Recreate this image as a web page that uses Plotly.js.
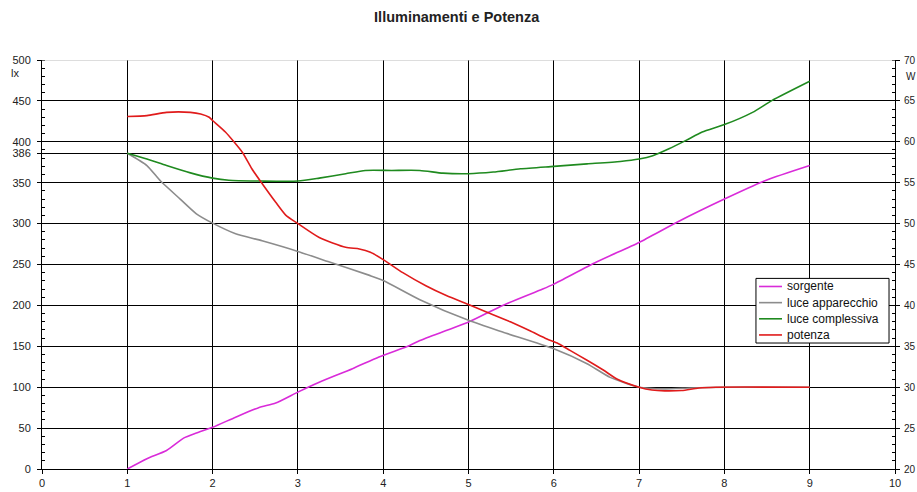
<!DOCTYPE html>
<html>
<head>
<meta charset="utf-8">
<script src="https://cdn.plot.ly/plotly-3.0.1.min.js"></script>
<style>html,body{margin:0;padding:0;background:#fff;}#chart{width:917px;height:492px;}</style>
</head>
<body>
<div id="chart"></div>
<script>
// ---- data ----
const chartTitle = "Illuminamenti e Potenza";
const seriesNames = ["sorgente", "luce apparecchio", "luce complessiva", "potenza"];
const seriesColors = ["#d92bd9", "#8c8c8c", "#1f8a1f", "#e01b1b"];

const xSorgente = [1, 1.23, 1.46, 1.66, 1.81, 2, 2.27, 2.54, 2.74, 3, 3.25, 3.64, 3.95, 4.31, 4.43, 5, 5.4, 5.87, 6, 6.5, 7, 7.45, 8, 8.49, 9];
const ySorgente = [0, 12.6, 22.7, 37.8, 44, 51, 63.4, 75, 80.6, 94, 106, 122.6, 137, 151, 157, 179.6, 200, 220, 226, 253, 277, 302, 330, 353, 371];

const xApparecchio = [1, 1.23, 1.39, 1.62, 1.81, 2, 2.27, 2.58, 3, 3.37, 3.84, 4, 4.43, 5, 5.4, 6, 6.39, 6.66, 7, 7.3, 7.6, 8, 9];
const yApparecchio = [386, 371, 352, 330, 312, 300.6, 287.6, 279, 266, 253, 236.7, 230.5, 207, 181.7, 167.4, 147, 128.7, 112, 100, 98, 99, 100, 100];

const xComplessiva = [1, 1.23, 1.46, 1.74, 2, 2.19, 2.58, 3, 3.25, 3.56, 3.79, 4.1, 4.43, 4.7, 5, 5.29, 5.61, 6, 6.39, 6.78, 7, 7.16, 7.35, 7.55, 7.74, 8, 8.33, 8.56, 9];
const yComplessiva = [386, 379, 371, 362, 355.6, 353, 352, 352, 355.6, 361, 365, 365, 365, 361.7, 361, 363, 367, 370, 373, 376, 379, 383, 391.5, 401.7, 412, 421, 436, 450.6, 474];

const xPotenza = [1, 1.23, 1.46, 1.74, 1.86, 1.96, 2, 2.15, 2.35, 2.46, 2.58, 2.74, 2.86, 3, 3.25, 3.56, 3.72, 3.85, 4, 4.23, 4.5, 4.74, 5, 5.21, 5.49, 5.72, 5.92, 6.04, 6.19, 6.39, 6.58, 6.74, 7, 7.15, 7.3, 7.5, 7.7, 7.9, 9];
const yPotenzaW = [63.1, 63.2, 63.6, 63.6, 63.4, 63.0, 62.6, 61.2, 58.7, 56.7, 54.9, 52.6, 51.0, 50.0, 48.3, 47.1, 46.9, 46.5, 45.6, 44.0, 42.4, 41.2, 40.1, 39.2, 38.0, 36.9, 35.9, 35.4, 34.5, 33.3, 32.1, 31.0, 30.0, 29.65, 29.55, 29.6, 29.9, 30.0, 30.0];

const xTicks = [0, 1, 2, 3, 4, 5, 6, 7, 8, 9, 10];
const yLeftTicks = [0, 50, 100, 150, 200, 250, 300, 350, 386, 400, 450, 500];
const yRightTicks = [20, 25, 30, 35, 40, 45, 50, 55, 60, 65, 70];
const leftUnit = "lx";
const rightUnit = "W";

// ---- traces ----
const font = "Liberation Sans, Arial, sans-serif";
const xs = [xSorgente, xApparecchio, xComplessiva, xPotenza];
const ys = [ySorgente, yApparecchio, yComplessiva, yPotenzaW];
const traces = xs.map((x, i) => ({
  x: x, y: ys[i], name: seriesNames[i], type: "scatter", mode: "lines",
  yaxis: i === 3 ? "y2" : "y",
  line: {color: seriesColors[i], width: 1.6, shape: "spline", smoothing: 0.6},
  showlegend: false, hoverinfo: "skip"
}));

// ---- manual legend (paper coords) ----
const legBox = {x0: 0.837, x1: 0.993, y0: 0.308, y1: 0.466};
const shapes = [
  {type: "rect", xref: "paper", yref: "paper", x0: legBox.x0, x1: legBox.x1, y0: legBox.y0, y1: legBox.y1,
   line: {color: "#000", width: 1}, fillcolor: "#fff", layer: "above"},
  {type: "line", xref: "paper", yref: "y", x0: 0, x1: 1, y0: 500, y1: 500, line: {color: "#bbb", width: 1}, layer: "above"}
];
const annotations = [
  {text: leftUnit, xref: "paper", yref: "paper", x: -0.032, y: 0.968, xanchor: "center", yanchor: "middle",
   showarrow: false, font: {family: font, size: 11, color: "#222"}},
  {text: rightUnit, xref: "paper", yref: "paper", x: 1.011, y: 0.96, xanchor: "left", yanchor: "middle",
   showarrow: false, font: {family: font, size: 10, color: "#222"}}
];
const rowH = (legBox.y1 - legBox.y0) / seriesNames.length;
seriesNames.forEach((n, i) => {
  const yy = legBox.y1 - rowH * (i + 0.5);
  shapes.push({type: "line", xref: "paper", yref: "paper", x0: 0.8406, x1: 0.8675, y0: yy, y1: yy,
    line: {color: seriesColors[i], width: 1.6}, layer: "above"});
  annotations.push({text: n, xref: "paper", yref: "paper", x: 0.871, y: yy, xanchor: "left", yanchor: "middle",
    showarrow: false, font: {family: font, size: 12, color: "#111"}});
});

const layout = {
  width: 917, height: 492,
  margin: {l: 42, r: 22, t: 60, b: 23, pad: 0},
  paper_bgcolor: "#fff", plot_bgcolor: "#fff",
  showlegend: false,
  title: {text: "<b>" + chartTitle + "</b>", xref: "container", x: 0.498, xanchor: "center", y: 0.965, yanchor: "middle",
          font: {family: font, size: 14.5, color: "#222"}},
  xaxis: {
    range: [0, 10], tickmode: "array", tickvals: xTicks, ticktext: xTicks.map(String),
    showgrid: true, gridcolor: "#000", gridwidth: 1, zeroline: false,
    showline: true, linecolor: "#000", linewidth: 1,
    ticks: "outside", ticklen: 4, tickcolor: "#000",
    tickfont: {family: font, size: 11, color: "#222"}, fixedrange: true
  },
  yaxis: {
    range: [0, 500], tickmode: "array", tickvals: yLeftTicks, ticktext: yLeftTicks.map(String),
    showgrid: true, gridcolor: "#000", gridwidth: 1, zeroline: false,
    showline: true, linecolor: "#000", linewidth: 1,
    ticks: "outside", ticklen: 4, tickcolor: "#000", ticklabelstandoff: 4,
    minor: {tick0: 0, dtick: 10, ticks: "inside", ticklen: 3, tickcolor: "#000", showgrid: false},
    tickfont: {family: font, size: 11, color: "#222"}, fixedrange: true
  },
  yaxis2: {
    range: [20, 70], overlaying: "y", side: "right", tickmode: "array", tickvals: yRightTicks, ticktext: yRightTicks.map(String),
    showgrid: false, zeroline: false, showline: true, linecolor: "#000", linewidth: 1,
    ticks: "outside", ticklen: 4, tickcolor: "#000", ticklabelstandoff: 2,
    minor: {tick0: 20, dtick: 1, ticks: "inside", ticklen: 3, tickcolor: "#000", showgrid: false},
    tickfont: {family: font, size: 10, color: "#222"}, fixedrange: true
  },
  shapes: shapes,
  annotations: annotations
};

Plotly.newPlot("chart", traces, layout, {displayModeBar: false, staticPlot: true});
</script>
</body>
</html>
